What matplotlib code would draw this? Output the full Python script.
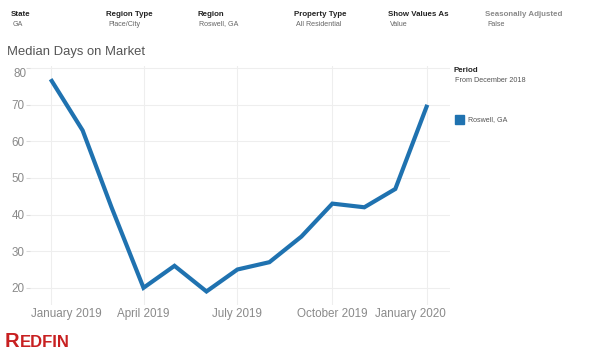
import matplotlib
matplotlib.use("Agg")
import matplotlib.pyplot as plt
import matplotlib.transforms as mtransforms
import datetime as dt

plt.rcParams['font.family'] = ['Liberation Sans', 'DejaVu Sans']

months = ["2019-01", "2019-02", "2019-03", "2019-04", "2019-05", "2019-06", "2019-07",
          "2019-08", "2019-09", "2019-10", "2019-11", "2019-12", "2020-01"]
days_on_market = [77, 63, 42, 20, 26, 19, 25, 27, 34, 43, 42, 47, 70]
series_name = "Roswell, GA"

xtick_dates = ["2019-01", "2019-04", "2019-07", "2019-10", "2020-01"]
xtick_labels = ["January 2019", "April 2019", "July 2019", "October 2019", "January 2020"]
ytick_values = [20, 30, 40, 50, 60, 70, 80]

header_keys = ["State", "Region Type", "Region", "Property Type", "Show Values As", "Seasonally Adjusted"]
header_vals = ["GA", "Place/City", "Roswell, GA", "All Residential", "Value", "False"]
header_x = [11, 106, 197, 294, 388, 485]

def to_date(s):
    y, m = s.split("-")
    return dt.datetime(int(y), int(m), 1)

x = [to_date(m) for m in months]
xt = [to_date(m) for m in xtick_dates]

W, H = 600, 353
fig = plt.figure(figsize=(W / 100, H / 100), dpi=100)
ax = fig.add_axes([30 / W, 1 - 305 / H, 420 / W, (305 - 66) / H])

color = "#1f72b0"
ax.plot(x, days_on_market, color=color, lw=3.0, solid_capstyle="butt", solid_joinstyle="miter", zorder=3)

ax.set_xlim(dt.datetime(2018, 12, 12), dt.datetime(2020, 1, 23))
ax.set_ylim(15.3, 80.6)

grid_c = "#eeeeee"
tc = "#8a8a8a"
fs_tick = 8.4
ax.set_xticks(xt)
ax.set_xticklabels([""] * len(xt))
ax.set_yticks(ytick_values)
ax.set_yticklabels([str(v) for v in ytick_values[:-1]] + [""])
ax.grid(True, color=grid_c, lw=0.8, zorder=0)
ax.tick_params(axis="y", length=3, color="#dddddd", labelcolor=tc, labelsize=fs_tick, pad=1)
ax.tick_params(axis="x", length=0, labelsize=fs_tick)
for s in ax.spines.values():
    s.set_visible(False)

# top y label nudged inside the plot area
ax.text(-0.008, 80, str(ytick_values[-1]),
        transform=mtransforms.blended_transform_factory(ax.transAxes, ax.transData),
        ha="right", va="top", color=tc, fontsize=fs_tick)

# x labels
lab_y = 1 - 314 / H
for i, (d, lab) in enumerate(zip(xt, xtick_labels)):
    if i == 0:
        fig.text(31 / W, lab_y, lab, ha="left", va="center", color=tc, fontsize=fs_tick)
    elif i == len(xt) - 1:
        fig.text(446 / W, lab_y, lab, ha="right", va="center", color=tc, fontsize=fs_tick)
    else:
        ax.text(d, lab_y, lab, transform=mtransforms.blended_transform_factory(ax.transData, fig.transFigure),
                ha="center", va="center", color=tc, fontsize=fs_tick)

# header
for k, v, hx in zip(header_keys, header_vals, header_x):
    kc = "#8a8a8a" if k == "Seasonally Adjusted" else "#222222"
    fig.text(hx / W, 1 - 14 / H, k, ha="left", va="center", fontsize=5.7, fontweight="bold", color=kc)
    fig.text((hx + 2) / W, 1 - 24 / H, v, ha="left", va="center", fontsize=5.1, color="#666666")

fig.text(7 / W, 1 - 52 / H, "Median Days on Market", ha="left", va="center", fontsize=9.4, color="#555555")

# legend
fig.text(453 / W, 1 - 71 / H, "Period", ha="left", va="center", fontsize=5.7, fontweight="bold", color="#222222")
fig.text(455 / W, 1 - 80 / H, "From December 2018", ha="left", va="center", fontsize=5.2, color="#555555")
fig.patches.append(matplotlib.patches.Rectangle((455 / W, 1 - 124 / H), 9 / W, 9 / H,
                                                transform=fig.transFigure, color=color, figure=fig))
fig.text(468 / W, 1 - 120 / H, series_name, ha="left", va="center", fontsize=5.1, color="#555555")

# logo (small caps style)
t1 = fig.text(5 / W, 1 - 347 / H, "R", ha="left", va="baseline", fontsize=14.5, fontweight="bold", color="#c82021")
fig.canvas.draw()
bb = t1.get_window_extent(renderer=fig.canvas.get_renderer())
fig.text(bb.x1 / W, 1 - 347 / H, "EDFIN", ha="left", va="baseline", fontsize=12, fontweight="bold", color="#c82021")

fig.savefig("out.png", dpi=100)
